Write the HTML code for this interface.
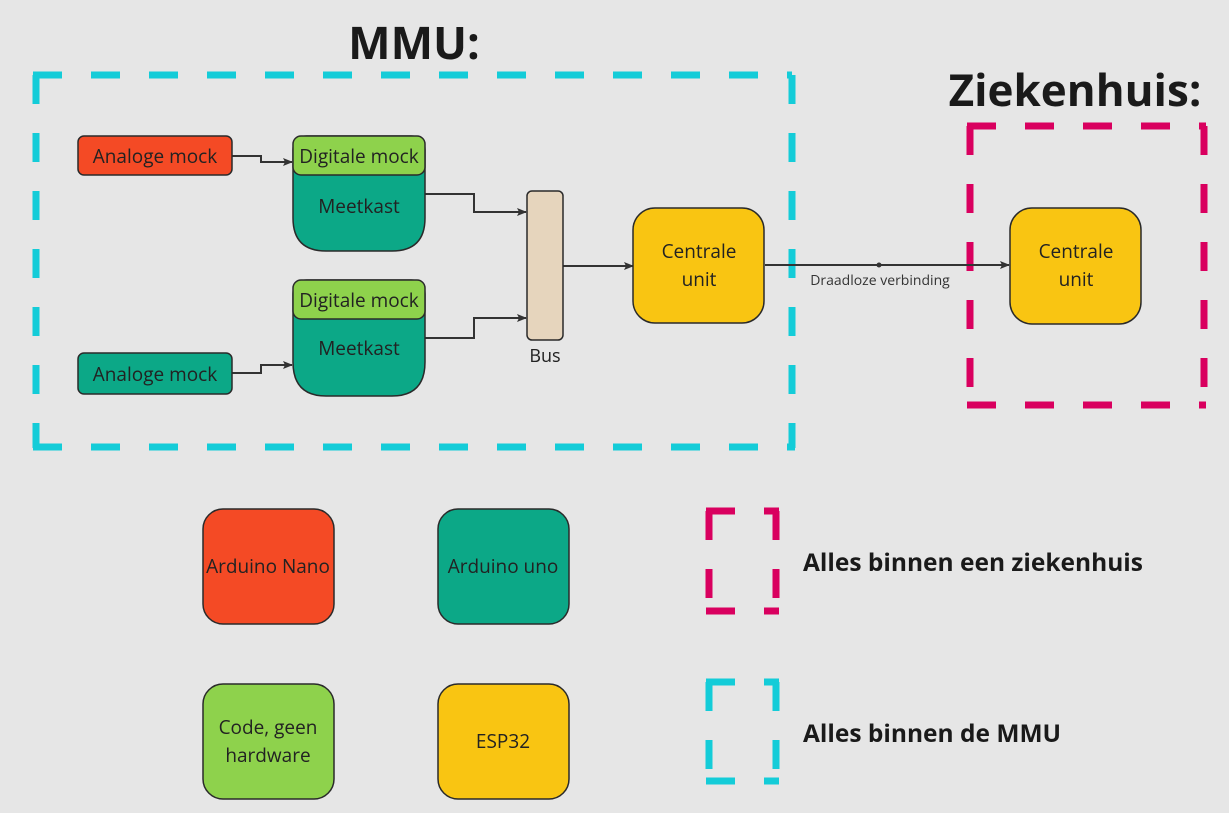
<!DOCTYPE html>
<html><head><meta charset="utf-8"><style>
html,body{margin:0;padding:0;background:#e6e6e6;}
svg{display:block;font-family:"Open Sans","Liberation Sans","DejaVu Sans",sans-serif;}
</style></head><body>
<svg width="1229" height="813" viewBox="0 0 1229 813" xmlns="http://www.w3.org/2000/svg">
<rect width="1229" height="813" fill="#e6e6e6"/>
<defs>
<marker id="ar" markerWidth="10" markerHeight="10" refX="9" refY="5" orient="auto" markerUnits="userSpaceOnUse">
<path d="M0,1 L10,5 L0,9 L2,5 Z" fill="#333"/></marker>
</defs>
<g fill="none" stroke-width="7" stroke-dasharray="29 29">
<g stroke="#14ccd8">
<path d="M33,75 H792"/><path d="M36,75 V448"/><path d="M33,447 H795"/><path d="M792,75 V448"/>
<path d="M706,682 H779"/><path d="M709,682 V784"/><path d="M706,781 H779"/><path d="M776,682 V784"/>
</g>
<g stroke="#d9005f">
<path d="M967,126 H1206"/><path d="M970,126 V406"/><path d="M967,405 H1206"/><path d="M1204,126 V406"/>
<path d="M706,511 H779"/><path d="M709,511 V614"/><path d="M706,611 H779"/><path d="M776,511 V614"/>
</g>
</g>
<text x="414" y="59" text-anchor="middle" font-size="45" font-weight="bold" fill="#1a1a1a">MMU:</text>
<text x="1075" y="106" text-anchor="middle" font-size="44" font-weight="bold" fill="#1a1a1a">Ziekenhuis:</text>
<g stroke="#333" stroke-width="2" fill="none" marker-end="url(#ar)">
<path d="M232,156 H261 V162 H292"/>
<path d="M232,373 H261 V365 H292"/>
<path d="M425,194 H474 V212 H526"/>
<path d="M425,338 H474 V318 H526"/>
<path d="M563,266 H633"/>
<path d="M765,265 H1009"/>
</g>
<circle cx="879" cy="265" r="2.5" fill="#333"/>
<g stroke="#2a2a2a" stroke-width="1.5">
<rect x="78" y="136" width="154" height="39" rx="6" fill="#f44a25"/>
<rect x="78" y="353" width="154" height="41" rx="6" fill="#0ca887"/>
<path d="M293,150 Q293,136 307,136 H411 Q425,136 425,150 V218 Q425,251 392,251 H326 Q293,251 293,218 Z" fill="#0ca887"/>
<rect x="293" y="136" width="132" height="39" rx="8" fill="#8ed24c"/>
<path d="M293,294 Q293,280 307,280 H411 Q425,280 425,294 V362 Q425,396 392,396 H326 Q293,396 293,362 Z" fill="#0ca887"/>
<rect x="293" y="280" width="132" height="39" rx="8" fill="#8ed24c"/>
<rect x="527" y="191" width="36" height="149" rx="5" fill="#e6d5bd"/>
<rect x="633" y="208" width="131" height="115" rx="22" fill="#f9c512"/>
<rect x="1010" y="208" width="131" height="116" rx="22" fill="#f9c512"/>
<rect x="203" y="509" width="131" height="115" rx="20" fill="#f44a25"/>
<rect x="438" y="509" width="131" height="115" rx="20" fill="#0ca887"/>
<rect x="203" y="684" width="131" height="115" rx="20" fill="#8ed24c"/>
<rect x="438" y="684" width="131" height="115" rx="20" fill="#f9c512"/>
</g>
<g font-size="19" fill="#222" text-anchor="middle">
<text x="155" y="163">Analoge mock</text>
<text x="155" y="381">Analoge mock</text>
<text x="359" y="163">Digitale mock</text>
<text x="359" y="213">Meetkast</text>
<text x="359" y="307">Digitale mock</text>
<text x="359" y="355">Meetkast</text>
<text x="545" y="362" font-size="18">Bus</text>
<text x="699" y="258">Centrale</text><text x="699" y="286">unit</text>
<text x="1076" y="258">Centrale</text><text x="1076" y="286">unit</text>
<text x="268" y="573">Arduino Nano</text>
<text x="503" y="573">Arduino uno</text>
<text x="268" y="734">Code, geen</text><text x="268" y="762">hardware</text>
<text x="503" y="748">ESP32</text>
<text x="880" y="285" font-size="14" fill="#333">Draadloze verbinding</text>
</g>
<g font-size="24.5" font-weight="bold" fill="#1a1a1a">
<text x="803" y="571">Alles binnen een ziekenhuis</text>
<text x="803" y="742">Alles binnen de MMU</text>
</g>
</svg>
</body></html>
